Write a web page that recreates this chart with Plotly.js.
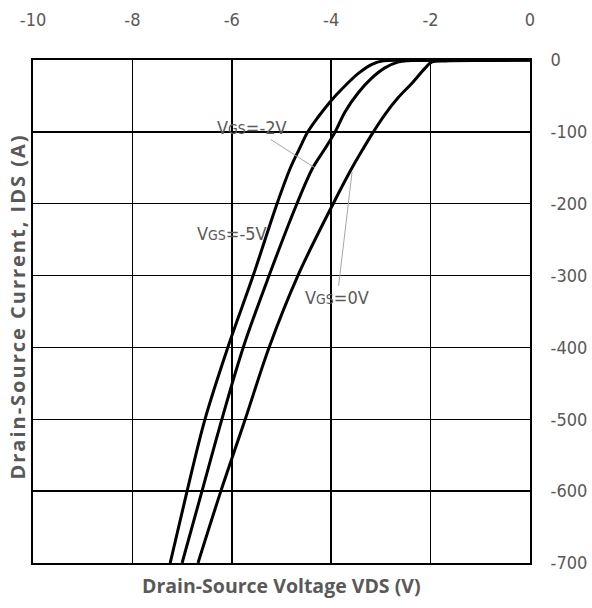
<!DOCTYPE html>
<html>
<head>
<meta charset="utf-8">
<script src="https://cdn.plot.ly/plotly-3.0.1.min.js"></script>
<style>html,body{margin:0;padding:0;background:#fff;}#chart{width:592px;height:608px;}</style>
</head>
<body>
<div id="chart"></div>
<script>
// VGS = -5V curve
const vds_m5 = [-7.24, -6.90, -6.54, -6.08, -5.57, -5.09, -4.82, -4.65, -4.47, -4.27, -4.02, -3.75, -3.46, -3.18, -2.95, -2.5, -1.5, 0];
const ids_m5 = [-700, -600, -500, -400, -300, -200, -150, -125, -100, -80, -58, -38, -19, -6, -1.2, -0.4, -0.2, 0];
// VGS = -2V curve
const vds_m2 = [-7.00, -6.60, -6.20, -5.77, -5.25, -4.69, -4.37, -4.14, -3.92, -3.72, -3.46, -3.18, -2.92, -2.66, -2.46, -1.5, 0];
const ids_m2 = [-700, -600, -500, -400, -300, -200, -150, -125, -100, -72, -46, -25, -11, -3, -1, -0.4, 0];
// VGS = 0V curve
const vds_0 = [-6.68, -6.22, -5.73, -5.25, -4.67, -3.96, -3.58, -3.37, -3.16, -2.92, -2.66, -2.37, -2.12, -1.98, -1.7, -0.8, 0];
const ids_0 = [-700, -600, -500, -400, -300, -200, -150, -125, -101, -76, -53, -32, -12, -3, -1.3, -0.7, 0];

const xTicks = [-10, -8, -6, -4, -2, 0];
const yTicks = [0, -100, -200, -300, -400, -500, -600, -700];

const labels = [
  {text: 'V<span style="font-size:14px">GS</span>=-2V', tipX: -4.33, tipY: -150, textX: -5.59, textY: -94},
  {text: 'V<span style="font-size:14px">GS</span>=-5V', tipX: -5.29, tipY: -236, textX: -6.0, textY: -241},
  {text: 'V<span style="font-size:14px">GS</span>=0V', tipX: -3.58, tipY: -156, textX: -3.88, textY: -331}
];

const narrow = '"DejaVu Sans Condensed", "DejaVu Sans", sans-serif';
const grey = '#595959';

function curve(x, y) {
  return {x: x, y: y, type: 'scatter', mode: 'lines',
    line: {color: '#000', width: 3, shape: 'spline', smoothing: 1},
    hoverinfo: 'skip', showlegend: false};
}

const data = [curve(vds_m5, ids_m5), curve(vds_m2, ids_m2), curve(vds_0, ids_0)];

const annotations = labels.map(l => ({
  x: l.tipX, y: l.tipY, xref: 'x', yref: 'y',
  ax: l.textX, ay: l.textY, axref: 'x', ayref: 'y',
  text: l.text, showarrow: true, arrowhead: 0, arrowwidth: 1, arrowcolor: '#a6a6a6',
  font: {family: narrow, size: 18, color: grey, stretch: 'condensed'}
}));

annotations.push({
  text: '<b>Drain-Source Voltage VDS (V)</b>', xref: 'paper', yref: 'paper',
  x: 0.5, y: -0.045, xanchor: 'center', yanchor: 'middle', showarrow: false,
  font: {family: '"Open Sans", sans-serif', size: 19.5, color: grey}
});
annotations.push({
  text: '<b><span style="letter-spacing:2px">Drain-Source Current, IDS (A)</span></b>', xref: 'paper', yref: 'paper',
  x: -0.032, y: 0.51, xanchor: 'center', yanchor: 'middle', showarrow: false, textangle: -90,
  font: {family: '"Open Sans", sans-serif', size: 20, color: grey}
});

const layout = {
  width: 592, height: 608,
  margin: {l: 33, r: 62, t: 60, b: 45},
  paper_bgcolor: '#ffffff', plot_bgcolor: '#ffffff',
  showlegend: false,
  xaxis: {
    side: 'top', range: [-10, 0], tickvals: xTicks, ticktext: xTicks.map(String),
    showgrid: true, gridcolor: '#000', gridwidth: 1.5, zeroline: false,
    showline: true, linecolor: '#000', linewidth: 2, mirror: true,
    ticks: 'outside', ticklen: 25, tickcolor: 'rgba(0,0,0,0)',
    tickfont: {family: narrow, size: 18, color: grey, stretch: 'condensed'}, fixedrange: true
  },
  yaxis: {
    side: 'right', range: [-700, 0], tickvals: yTicks, ticktext: yTicks.map(String),
    showgrid: true, gridcolor: '#000', gridwidth: 1.5, zeroline: false,
    showline: true, linecolor: '#000', linewidth: 2, mirror: true,
    ticks: 'outside', ticklen: 15, tickcolor: 'rgba(0,0,0,0)',
    tickfont: {family: narrow, size: 18, color: grey, stretch: 'condensed'}, fixedrange: true
  },
  annotations: annotations
};

Plotly.newPlot('chart', data, layout, {displayModeBar: false, staticPlot: true});
</script>
</body>
</html>
